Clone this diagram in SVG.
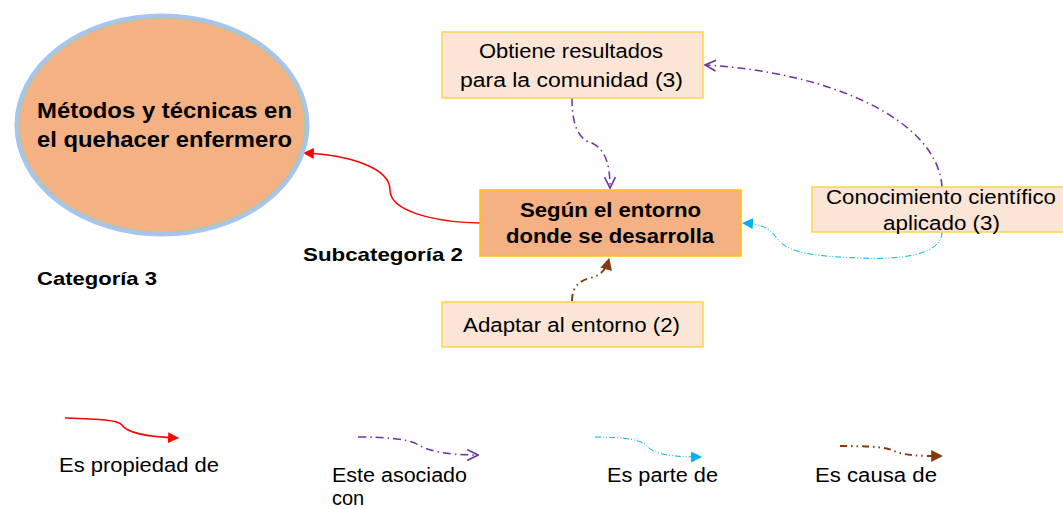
<svg xmlns="http://www.w3.org/2000/svg" width="1063" height="509" viewBox="0 0 1063 509">
<defs>
<style>
text{font-family:"Liberation Sans",Arial,sans-serif;fill:#000}
.b{font-weight:bold}
.box{fill:#FBE5D6;stroke:#FFD24D;stroke-width:1.5}
.boxm{fill:#F4B183;stroke:#FFC000;stroke-width:1.5}
.red{fill:none;stroke:#FF0000;stroke-width:1.5}
.pur{fill:none;stroke:#7030A0;stroke-width:1.5;stroke-dasharray:8 4 1.5 4}
.cya{fill:none;stroke:#00B0F0;stroke-width:1;stroke-dasharray:6 2 1 2 1 2}
.brn{fill:none;stroke:#843C0C;stroke-width:2;stroke-dasharray:7 4 1.5 4 1.5 4}
</style>
<marker id="mr" viewBox="0 0 10 10" refX="9" refY="5" markerWidth="11" markerHeight="11" markerUnits="userSpaceOnUse" orient="auto"><path d="M0,0 L10,5 L0,10 Z" fill="#FF0000"/></marker>
<marker id="mp" viewBox="0 0 12 12" refX="11" refY="6" markerWidth="13" markerHeight="13" markerUnits="userSpaceOnUse" orient="auto"><path d="M1,1 L11,6 L1,11" fill="none" stroke="#7030A0" stroke-width="1.5"/></marker>
<marker id="mc" viewBox="0 0 10 10" refX="9" refY="5" markerWidth="11" markerHeight="11" markerUnits="userSpaceOnUse" orient="auto"><path d="M0,0 L10,5 L0,10 Z" fill="#00B0F0"/></marker>
<marker id="mb" viewBox="0 0 10 10" refX="9" refY="5" markerWidth="12" markerHeight="12" markerUnits="userSpaceOnUse" orient="auto"><path d="M0,0 L10,5 L0,10 Z" fill="#843C0C"/></marker>
</defs>
<rect width="1063" height="509" fill="#fff"/>

<g id="connectors">
<path class="red" d="M480,223 C430,222 390,210 390,190 C390,168 350,155 304,153" marker-end="url(#mr)"/>
<path class="pur" d="M572,98 C572,128 580,140 592,143 C606,150 610,165 610,188" marker-end="url(#mp)"/>
<path class="pur" d="M942,187 C938,120 830,72 705,65" marker-end="url(#mp)"/>
<path class="cya" d="M942,232 C942,255 900,260 860,258 C800,256 785,250 775,236 C770,228 760,224 743,223" marker-end="url(#mc)"/>
<path class="brn" d="M572,301 C572,288 578,281 590,278 C600,276 606,270 609,259" marker-end="url(#mb)"/>
</g>

<g id="node-metodos">
<ellipse cx="162" cy="125" rx="145" ry="109" fill="#F4B183" stroke="#A7C3EE" stroke-width="5"/>
<ellipse cx="162" cy="125" rx="143" ry="107" fill="none" stroke="#A9D18E" stroke-width="1"/>
<text class="b" x="37" y="118" font-size="21.5" textLength="255" lengthAdjust="spacingAndGlyphs">Métodos y técnicas en</text>
<text class="b" x="37" y="147" font-size="21.5" textLength="255" lengthAdjust="spacingAndGlyphs">el quehacer enfermero</text>
</g>

<g id="label-categoria">
<text class="b" x="37" y="285" font-size="18.5" textLength="120" lengthAdjust="spacingAndGlyphs">Categoría 3</text>
</g>

<g id="label-subcategoria">
<text class="b" x="303" y="261" font-size="18.5" textLength="160" lengthAdjust="spacingAndGlyphs">Subcategoría 2</text>
</g>

<g id="node-obtiene">
<rect class="box" x="442" y="32" width="261" height="66"/>
<text x="479" y="58" font-size="20" textLength="184" lengthAdjust="spacingAndGlyphs">Obtiene resultados</text>
<text x="460" y="87" font-size="20" textLength="223" lengthAdjust="spacingAndGlyphs">para la  comunidad (3)</text>
</g>

<g id="node-segun">
<rect class="boxm" x="480" y="190" width="261" height="66"/>
<text class="b" x="520" y="217" font-size="20" textLength="181" lengthAdjust="spacingAndGlyphs">Según el entorno</text>
<text class="b" x="506" y="243" font-size="20" textLength="208" lengthAdjust="spacingAndGlyphs">donde se desarrolla</text>
</g>

<g id="node-adaptar">
<rect class="box" x="442" y="302" width="261" height="45"/>
<text x="463" y="332" font-size="20" textLength="217" lengthAdjust="spacingAndGlyphs">Adaptar al entorno (2)</text>
</g>

<g id="node-conocimiento">
<rect class="box" x="812" y="187" width="260" height="45"/>
<text x="826" y="204" font-size="20" textLength="230" lengthAdjust="spacingAndGlyphs">Conocimiento científico</text>
<text x="883" y="230" font-size="20" textLength="117" lengthAdjust="spacingAndGlyphs">aplicado (3)</text>
</g>

<g id="legend">
<path class="red" d="M65,418 C100,419 118,420 122,425 C127,433 150,437 178,438" marker-end="url(#mr)"/>
<text x="59" y="472" font-size="20" textLength="160" lengthAdjust="spacingAndGlyphs">Es propiedad de</text>
<path class="pur" d="M358,437 C385,437 405,439 415,443 C428,452 450,455 478,455" marker-end="url(#mp)"/>
<text x="332" y="482" font-size="20" textLength="135" lengthAdjust="spacingAndGlyphs">Este asociado</text>
<text x="332" y="505" font-size="20">con</text>
<path class="cya" d="M595,437 C625,437 642,440 647,446 C654,455 675,457 701,457" marker-end="url(#mc)"/>
<text x="607" y="482" font-size="20" textLength="111" lengthAdjust="spacingAndGlyphs">Es parte de</text>
<path class="brn" d="M840,446 C868,446 884,447 892,450 C904,456 920,456 942,456" marker-end="url(#mb)"/>
<text x="815" y="482" font-size="20" textLength="122" lengthAdjust="spacingAndGlyphs">Es causa de</text>
</g>
</svg>
